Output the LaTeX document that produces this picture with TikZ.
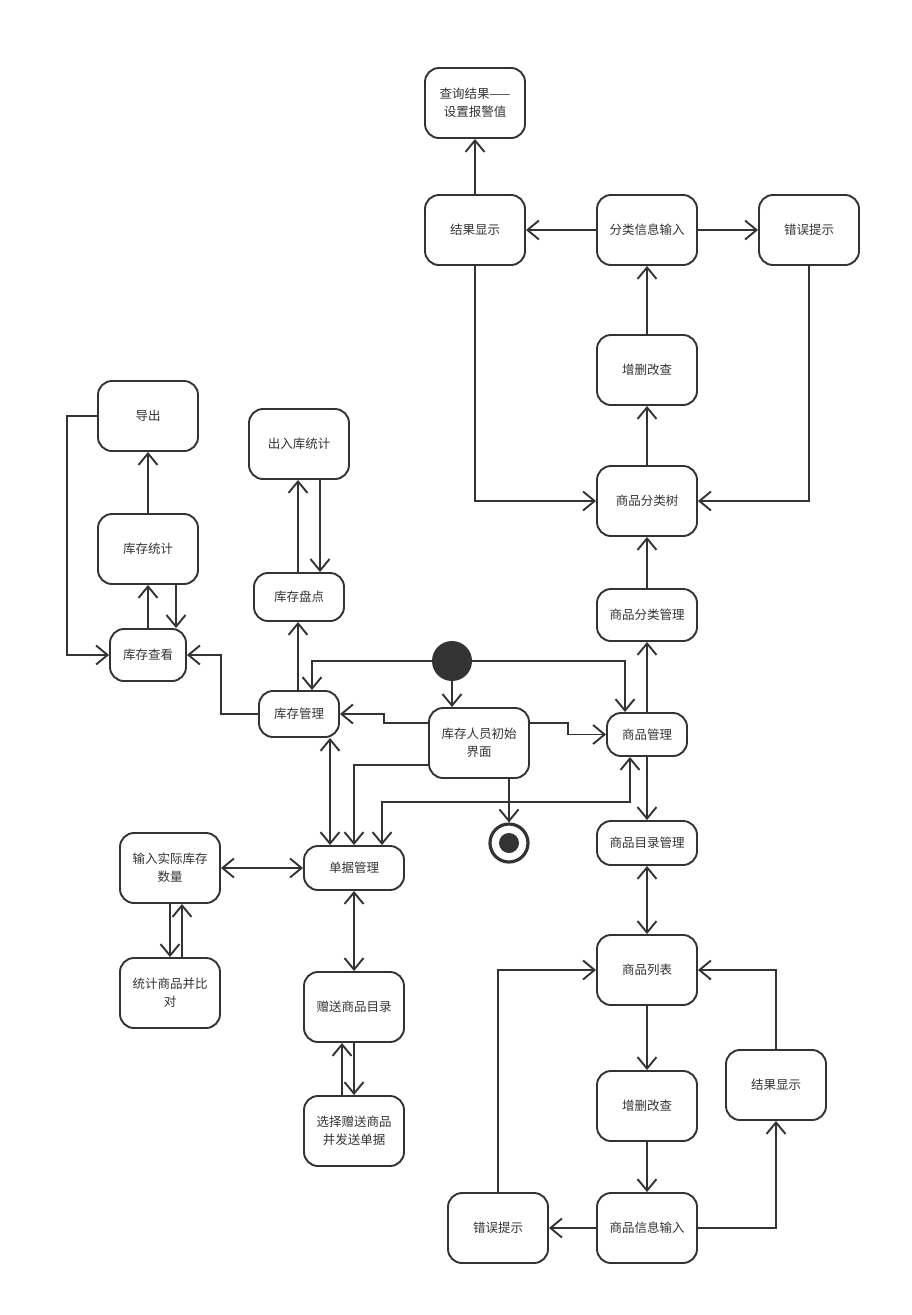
\documentclass[tikz,border=0pt]{standalone}
\usepackage{fontspec}
\newfontfamily\cjk{Noto Sans CJK SC}
\usetikzlibrary{arrows.meta}
\definecolor{ink}{HTML}{333333}
\tikzset{
  box/.style={draw=ink, text=ink, rounded corners=14pt, line width=1.9pt,
    minimum width=100pt, minimum height=70pt, align=center, inner sep=2pt,
    font=\cjk\fontsize{12.5}{18}\selectfont},
  flow/.style={draw=ink, line width=1.9pt},
  >={Straight Barb[length=11.5pt,width=19pt,line width=1.9pt]}
}
\begin{document}
\begin{tikzpicture}[x=1pt,y=-1pt]
\useasboundingbox (0,0) rectangle (911,1315);

% goods-category branch
\node[box] (cxjg)   at (475,103) {查询结果——\\设置报警值};
\node[box] (jgxsA)  at (475,230) {结果显示};
\node[box] (flxx)   at (647,230) {分类信息输入};
\node[box] (cwtsA)  at (809,230) {错误提示};
\node[box] (zsgcA)  at (647,370) {增删改查};
\node[box] (spfls)  at (647,501) {商品分类树};
\node[box, minimum height=52pt] (spflgl) at (647,615) {商品分类管理};
\node[box, minimum width=80pt, minimum height=43pt] (spgl) at (647,734.5) {商品管理};
\node[box, minimum height=44pt] (spmlgl) at (647,843) {商品目录管理};
\node[box] (splb)   at (647,970) {商品列表};
\node[box] (zsgcB)  at (647,1106) {增删改查};
\node[box] (jgxsB)  at (776,1085) {结果显示};
\node[box] (spxx)   at (647,1228) {商品信息输入};
\node[box] (cwtsB)  at (498,1228) {错误提示};

% stock branch
\node[box] (dc)     at (148,416) {导出};
\node[box] (kctj)   at (148,549) {库存统计};
\node[box, minimum width=76pt, minimum height=52pt] (kcck) at (148,655) {库存查看};
\node[box] (crktj)  at (299,444) {出入库统计};
\node[box, minimum width=90pt, minimum height=48pt] (kcpd) at (299,597) {库存盘点};
\node[box, minimum width=80pt, minimum height=46pt] (kcgl) at (299,714) {库存管理};

% entry screen, start and final states
\node[box] (init)   at (479,743) {库存人员初始\\界面};
\node[circle, fill=ink, minimum size=40pt, inner sep=0pt] (start) at (452,661) {};
\node[circle, draw=ink, line width=3.2pt, minimum size=38pt, inner sep=0pt] (fin) at (509,843) {};
\fill[ink] (fin.center) circle (10pt);

% bills branch
\node[box, minimum height=44pt] (dsgl) at (354,868) {单据管理};
\node[box] (srsj)   at (170,868) {输入实际库存\\数量};
\node[box] (tjbd)   at (170,993) {统计商品并比\\对};
\node[box] (zsml)   at (354,1007) {赠送商品目录};
\node[box] (xzzs)   at (354,1131) {选择赠送商品\\并发送单据};

% connectors: goods-category branch
\draw[flow,->] (jgxsA) -- (cxjg);
\draw[flow,->] (flxx) -- (jgxsA);
\draw[flow,->] (flxx) -- (cwtsA);
\draw[flow,->] (zsgcA) -- (flxx);
\draw[flow,->] (spfls) -- (zsgcA);
\draw[flow,->] (jgxsA.south) |- (spfls.west);
\draw[flow,->] (cwtsA.south) |- (spfls.east);
\draw[flow,->] (spflgl) -- (spfls);
\draw[flow,->] (spgl) -- (spflgl);
\draw[flow,->] (spgl) -- (spmlgl);
\draw[flow,<->] (spmlgl) -- (splb);
\draw[flow,->] (splb) -- (zsgcB);
\draw[flow,->] (zsgcB) -- (spxx);
\draw[flow,->] (spxx) -- (cwtsB);
\draw[flow,->] (spxx.east) -| (jgxsB.south);
\draw[flow,->] (jgxsB.north) |- (splb.east);
\draw[flow,->] (cwtsB.north) |- (splb.west);

% connectors: start and entry screen
\draw[flow,->] (start.south) -- (start.south |- init.north);
\draw[flow,->] (start.west) -| ([xshift=13pt]kcgl.north);
\draw[flow,->] (start.east) -| ([xshift=-22pt]spgl.north);
\draw[flow,->] ([yshift=20pt]init.west) -- ++(-44,0) |- (kcgl.east);
\draw[flow,->] ([yshift=20pt]init.east) -- ++(38,0) |- (spgl.west);
\draw[flow,->] ([yshift=-22pt]init.west) -| (dsgl.north);
\draw[flow,->] ([xshift=30pt]init.south) -- (fin.north);
\draw[flow,<->] ([xshift=-17pt]spgl.south) -- ++(0,45) -| ([xshift=28pt]dsgl.north);

% connectors: stock branch
\draw[flow,<->] ([xshift=31pt]kcgl.south) -- ([xshift=31pt]kcgl.south |- dsgl.north);
\draw[flow,->] ([xshift=-1pt]kcgl.north) -- ([xshift=-1pt]kcpd.south);
\draw[flow,->] ([xshift=-1pt]kcpd.north) -- ([xshift=-1pt]crktj.south);
\draw[flow,->] ([xshift=21pt]crktj.south) -- ([xshift=21pt]crktj.south |- kcpd.north);
\draw[flow,->] (kcgl.west) -- ++(-37,0) |- (kcck.east);
\draw[flow,->] (kcck.north) -- (kctj.south);
\draw[flow,->] ([xshift=28pt]kctj.south) -- ([xshift=28pt]kctj.south |- kcck.north);
\draw[flow,->] (kctj) -- (dc);
\draw[flow,->] (dc.west) -- ++(-30,0) |- (kcck.west);

% connectors: bills branch
\draw[flow,<->] (srsj) -- (dsgl);
\draw[flow,->] (srsj.south) -- (tjbd.north);
\draw[flow,->] ([xshift=12pt]tjbd.north) -- ([xshift=12pt]srsj.south);
\draw[flow,<->] (dsgl) -- (zsml);
\draw[flow,->] ([xshift=-12pt]xzzs.north) -- ([xshift=-12pt]zsml.south);
\draw[flow,->] (zsml.south) -- (xzzs.north);
\end{tikzpicture}
\end{document}
